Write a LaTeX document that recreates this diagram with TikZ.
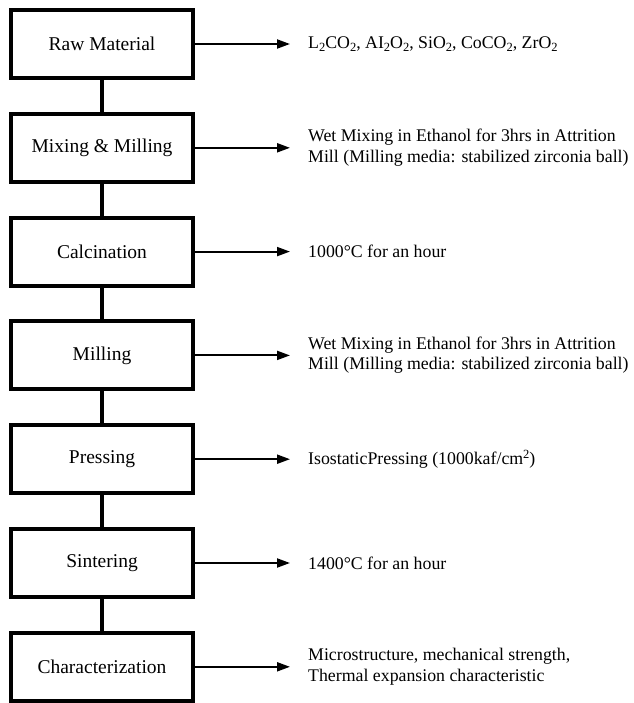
\documentclass[tikz,border=0pt]{standalone}
\usepackage{fontspec}
\setmainfont{Liberation Serif}
\usepackage{tikz}
\usetikzlibrary{arrows.meta}
\tikzset{>={Triangle[length=13pt,width=9pt]}}
\newcommand{\chemsub}[1]{\raisebox{-0.45ex}{\fontsize{12.5}{12.5}\selectfont #1}}
\newcommand{\chemsup}[1]{\raisebox{0.75ex}{\fontsize{12.5}{12.5}\selectfont #1}}
\tikzset{
  stepbox/.style={draw,line width=4pt,minimum width=182pt,minimum height=68pt,inner sep=0pt,font=\fontsize{19.5}{22}\selectfont},
  note/.style={anchor=west,align=left,inner xsep=18pt,inner ysep=0pt,font=\fontsize{17.8}{20.5}\selectfont},
  link/.style={line width=4pt},
  arr/.style={line width=2pt,->}
}
\begin{document}
\begin{tikzpicture}[x=1pt,y=-1pt]
  \useasboundingbox (0,0) rectangle (633,703);
  % process steps
  \node[stepbox] at (102,44)    (raw)  {Raw Material};
  \node[stepbox] at (102,147.8) (mix)  {Mixing \& Milling};
  \node[stepbox] at (102,251.6) (calc) {Calcination};
  \node[stepbox] at (102,355.4) (mill) {Milling};
  \node[stepbox] at (102,459.2) (press){Pressing};
  \node[stepbox] at (102,563)   (sint) {Sintering};
  \node[stepbox] at (102,666.8) (char) {Characterization};
  \draw[link] (raw)--(mix);
  \draw[link] (mix)--(calc);
  \draw[link] (calc)--(mill);
  \draw[link] (mill)--(press);
  \draw[link] (press)--(sint);
  \draw[link] (sint)--(char);
  % conditions
  \node[note] at (290,44)    (rawtxt)  {L\chemsub{2}CO\chemsub{2}, AI\chemsub{2}O\chemsub{2}, SiO\chemsub{2}, CoCO\chemsub{2}, ZrO\chemsub{2}};
  \node[note] at (290,147.8) (mixtxt)  {Wet Mixing in Ethanol for 3hrs in Attrition\\Mill (Milling media: stabilized zirconia ball)};
  \node[note] at (290,251.6) (calctxt) {1000°C for an hour};
  \node[note] at (290,355.4) (milltxt) {Wet Mixing in Ethanol for 3hrs in Attrition\\Mill (Milling media: stabilized zirconia ball)};
  \node[note] at (290,459.2) (presstxt){IsostaticPressing (1000kaf/cm\chemsup{2})};
  \node[note] at (290,563)   (sinttxt) {1400°C for an hour};
  \node[note] at (290,666.8) (chartxt) {Microstructure, mechanical strength,\\Thermal expansion characteristic};
  \draw[arr] (raw)--(rawtxt);
  \draw[arr] (mix)--(mixtxt);
  \draw[arr] (calc)--(calctxt);
  \draw[arr] (mill)--(milltxt);
  \draw[arr] (press)--(presstxt);
  \draw[arr] (sint)--(sinttxt);
  \draw[arr] (char)--(chartxt);
\end{tikzpicture}
\end{document}
